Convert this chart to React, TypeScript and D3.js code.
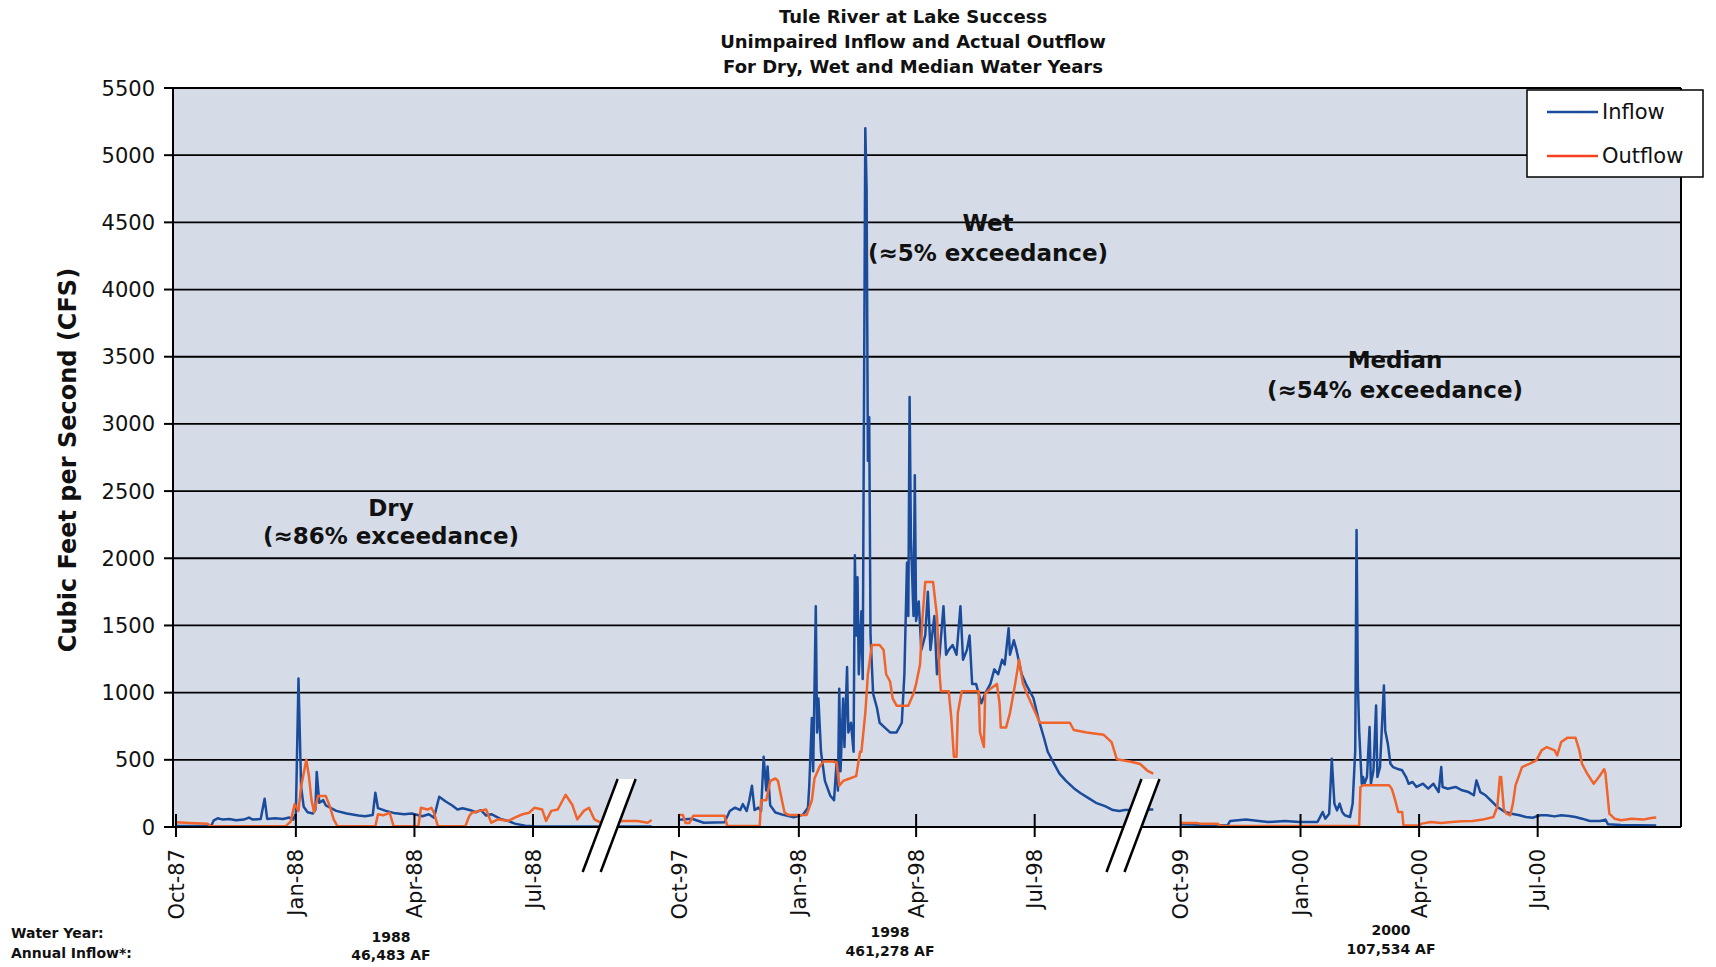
import React from "react";
import * as d3 from "d3";

// ---------- data (day offset from Oct 1 of water year, cfs) ----------
const TITLE_LINES = [
  "Tule River at Lake Success",
  "Unimpaired Inflow and Actual Outflow",
  "For Dry, Wet and Median Water Years",
];
const Y_TICKS = [0, 500, 1000, 1500, 2000, 2500, 3000, 3500, 4000, 4500, 5000, 5500];
const WATER_YEAR_STARTS = ["1987-10-01", "1997-10-01", "1999-10-01"];
const WATER_YEARS = ["1988", "1998", "2000"];
const ANNUAL_INFLOW = ["46,483 AF", "461,278 AF", "107,534 AF"];
const YEAR_TYPES = ["Dry", "Wet", "Median"];
const EXCEEDANCE = ["(≈86% exceedance)", "(≈5% exceedance)", "(≈54% exceedance)"];
const SERIES_NAMES = ["Inflow", "Outflow"];
const GAP_DAYS = 20;
const BREAK_DAYS: [number, number][] = [[0, 332], [1, 348]];

const dryInflow: [number, number][] = [
  [0, 8], [27, 8], [29, 50], [32, 65], [36, 55], [41, 60], [46, 50], [52, 55], [56, 70], [59, 55],
  [65, 60], [68, 210], [70, 60], [76, 65], [82, 60], [87, 70], [90, 55], [92, 100], [94, 1105], [96, 300],
  [98, 150], [101, 110], [105, 100], [107, 130], [108, 410], [110, 180], [113, 200], [115, 160], [119, 140],
  [123, 120], [131, 100], [140, 85], [145, 80], [151, 90], [153, 255], [155, 140], [161, 120], [167, 105],
  [175, 95], [181, 100], [189, 80], [194, 95], [198, 70], [202, 225], [207, 190], [212, 160], [216, 130],
  [220, 140], [226, 125], [230, 110], [234, 125], [238, 85], [242, 95], [249, 60], [255, 45], [260, 25],
  [268, 10], [275, 5], [365, 3],
];
const dryOutflow: [number, number][] = [
  [0, 35], [10, 30], [24, 25], [27, 5], [84, 5], [88, 40], [91, 170], [94, 120], [96, 300], [100, 500],
  [102, 380], [104, 200], [106, 110], [109, 230], [115, 230], [118, 155], [121, 57], [124, 5], [153, 5],
  [155, 95], [159, 87], [164, 106], [167, 5], [186, 5], [188, 143], [193, 130], [196, 143], [198, 106],
  [201, 5], [222, 5], [225, 80], [227, 106], [233, 120], [238, 130], [242, 32], [247, 57], [255, 45],
  [260, 70], [266, 95], [271, 106], [275, 143], [281, 130], [284, 45], [288, 120], [293, 130], [299, 240],
  [304, 168], [308, 57], [313, 120], [317, 143], [321, 57], [326, 32], [343, 45], [354, 45], [362, 32], [365, 52],
];
const wetInflow: [number, number][] = [
  [0, 54], [10, 61], [19, 32], [35, 36], [39, 119], [43, 144], [47, 126], [49, 170], [52, 119], [54, 199],
  [56, 307], [58, 126], [61, 144], [63, 119], [65, 523], [67, 271], [68, 451], [70, 162], [74, 108], [80, 90],
  [88, 72], [95, 90], [99, 144], [100, 307], [102, 812], [103, 415], [105, 1643], [106, 704], [107, 957],
  [109, 560], [112, 343], [116, 235], [119, 199], [121, 487], [122, 271], [123, 1029], [124, 415], [126, 957],
  [127, 596], [129, 1191], [130, 704], [132, 776], [134, 560], [135, 2022], [136, 1426], [137, 1859],
  [138, 1137], [140, 1606], [141, 1101], [143, 5200], [144, 4747], [145, 2726], [146, 3050], [147, 1426],
  [149, 993], [152, 884], [154, 776], [158, 740], [162, 704], [167, 704], [171, 776], [173, 1137], [175, 1967],
  [176, 1570], [177, 3200], [178, 2148], [180, 1570], [181, 2617], [182, 1534], [184, 1679], [186, 1318],
  [189, 1426], [191, 1751], [193, 1318], [196, 1570], [198, 1137], [200, 1282], [203, 1643], [205, 1282],
  [207, 1318], [210, 1354], [213, 1282], [216, 1643], [218, 1245], [221, 1318], [223, 1426], [225, 1065],
  [228, 1065], [232, 921], [235, 993], [239, 1065], [242, 1173], [245, 1137], [248, 1245], [250, 1209],
  [253, 1480], [254, 1282], [257, 1390], [259, 1318], [263, 1137], [267, 1050], [272, 960], [276, 800],
  [280, 668], [283, 560], [287, 487], [292, 397], [297, 343], [303, 289], [308, 253], [314, 217], [320, 180],
  [327, 155], [333, 126], [338, 119], [342, 126], [364, 130],
];
const wetOutflow: [number, number][] = [
  [0, 90], [3, 90], [5, 30], [8, 30], [11, 83], [35, 83], [37, 10], [62, 7], [63, 199], [67, 199], [70, 343],
  [74, 361], [76, 343], [79, 199], [81, 108], [84, 90], [98, 90], [102, 199], [104, 361], [108, 451],
  [111, 487], [118, 487], [121, 480], [123, 307], [126, 343], [131, 361], [136, 379], [139, 560], [140, 560],
  [143, 848], [145, 1137], [148, 1354], [154, 1354], [157, 1318], [159, 1137], [162, 1083], [164, 957],
  [167, 903], [176, 903], [180, 993], [182, 1065], [185, 1209], [187, 1570], [189, 1823], [195, 1823],
  [198, 1570], [200, 1137], [201, 1011], [207, 1011], [209, 812], [211, 523], [213, 523], [214, 848],
  [217, 1011], [230, 1011], [231, 704], [234, 596], [235, 993], [239, 1029], [244, 1065], [246, 921],
  [247, 740], [251, 740], [254, 848], [258, 1065], [261, 1245], [264, 1065], [267, 993], [272, 884],
  [277, 776], [300, 776], [303, 722], [313, 704], [326, 686], [332, 632], [336, 505], [346, 487], [354, 469],
  [360, 415], [364, 397],
];
const medianInflow: [number, number][] = [
  [0, 20], [36, 12], [38, 45], [50, 55], [67, 37], [80, 45], [91, 37], [105, 37], [107, 74], [109, 112],
  [111, 62], [114, 99], [116, 508], [118, 174], [120, 124], [122, 174], [124, 112], [126, 87], [130, 74],
  [132, 174], [134, 570], [135, 2210], [136, 1066], [137, 719], [139, 322], [140, 372], [141, 322], [143, 372],
  [145, 744], [146, 322], [148, 422], [150, 905], [151, 372], [153, 446], [156, 1054], [157, 719], [159, 620],
  [161, 471], [163, 446], [166, 434], [170, 422], [173, 372], [175, 322], [178, 335], [181, 298], [186, 322],
  [190, 285], [194, 322], [198, 260], [200, 446], [201, 298], [205, 285], [211, 298], [216, 273], [221, 260],
  [225, 236], [227, 347], [230, 260], [234, 236], [238, 198], [243, 149], [249, 112], [254, 99], [260, 87],
  [265, 74], [270, 69], [276, 87], [281, 87], [287, 79], [292, 87], [298, 82], [303, 74], [308, 62], [314, 45],
  [322, 45], [326, 55], [328, 20], [338, 15], [365, 12],
];
const medianOutflow: [number, number][] = [
  [0, 37], [1, 30], [12, 30], [15, 25], [28, 25], [30, 12], [33, 7], [137, 7], [138, 298], [140, 310],
  [160, 310], [162, 285], [164, 223], [167, 112], [170, 112], [171, 12], [183, 12], [185, 25], [192, 37],
  [200, 30], [208, 37], [216, 42], [224, 45], [232, 55], [240, 74], [243, 149], [245, 372], [246, 372],
  [248, 136], [250, 99], [253, 87], [255, 174], [257, 310], [262, 446], [268, 471], [273, 496], [277, 570],
  [281, 595], [287, 570], [289, 533], [292, 632], [297, 665], [303, 665], [306, 570], [308, 471], [312, 397],
  [317, 322], [321, 372], [325, 430], [326, 400], [329, 99], [333, 62], [338, 50], [346, 62], [355, 55],
  [361, 67], [365, 70],
];
const INFLOW = [dryInflow, wetInflow, medianInflow];
const OUTFLOW = [dryOutflow, wetOutflow, medianOutflow];

// ---------- layout ----------
const W = 1716, H = 967;
const PLOT = { left: 173, right: 1681, top: 88, bottom: 827 };
const FONT = "'DejaVu Sans', Verdana, sans-serif";
const COLORS = { inflow: "#1b4c9b", outflow: "#f0632b", plot: "#d5dce8" };

export default function App() {
  const parse = d3.timeParse("%Y-%m-%d");
  const starts = WATER_YEAR_STARTS.map((s) => parse(s) as Date);
  const lengths = starts.map((s) => d3.timeDay.count(s, d3.timeYear.offset(s, 1)));
  const offsets: number[] = [];
  lengths.reduce((acc, len, i) => {
    offsets[i] = acc;
    return acc + len + GAP_DAYS;
  }, 0);

  const x = d3.scaleLinear().domain([-2.3, 1155]).range([PLOT.left, PLOT.right]);
  const y = d3.scaleLinear().domain([0, 5500]).range([PLOT.bottom, PLOT.top]);
  const line = (seg: number) =>
    d3.line<[number, number]>()
      .x((d) => x(offsets[seg] + d[0]))
      .y((d) => y(d[1]));

  const ticks = starts.flatMap((s, i) =>
    [0, 3, 6, 9].map((m) => {
      const dt = d3.timeMonth.offset(s, m);
      return { idx: offsets[i] + d3.timeDay.count(s, dt), label: d3.timeFormat("%b-%y")(dt) };
    })
  );

  const annot = [
    { x: 391, y1: 516, y2: 544 },
    { x: 988, y1: 231, y2: 261 },
    { x: 1395, y1: 368, y2: 398 },
  ];
  const yearLabelX = [391, 890, 1391];
  const yearLabelY = [[942, 960], [937, 956], [935, 954]];

  const slope = 35 / 93;
  const axisY = y(0);

  return (
    <svg width={W} height={H} style={{ position: "absolute", left: 0, top: 0, background: "#fff" }}>
      <rect x={0} y={0} width={W} height={H} fill="#fff" />
      {/* title */}
      {TITLE_LINES.map((t, i) => (
        <text key={t} x={913} y={23 + i * 25} textAnchor="middle" fontFamily={FONT} fontWeight="bold" fontSize={18} fill="#111">
          {t}
        </text>
      ))}
      {/* plot area */}
      <rect x={PLOT.left} y={PLOT.top} width={PLOT.right - PLOT.left} height={PLOT.bottom - PLOT.top} fill={COLORS.plot} />
      {Y_TICKS.filter((v) => v > 0).map((v) => (
        <line key={v} x1={PLOT.left} x2={PLOT.right} y1={y(v)} y2={y(v)} stroke="#000" strokeWidth={1.8} />
      ))}
      {Y_TICKS.map((v) => (
        <g key={"yt" + v}>
          <line x1={PLOT.left - 9} x2={PLOT.left} y1={y(v)} y2={y(v)} stroke="#000" strokeWidth={2} />
          <text x={155} y={y(v)} dy="0.36em" textAnchor="end" fontFamily={FONT} fontSize={21} fill="#111">
            {v}
          </text>
        </g>
      ))}
      <line x1={PLOT.left} x2={PLOT.left} y1={PLOT.top} y2={PLOT.bottom} stroke="#000" strokeWidth={2} />
      <line x1={PLOT.right} x2={PLOT.right} y1={PLOT.top} y2={PLOT.bottom} stroke="#000" strokeWidth={2} />

      {/* data */}
      {INFLOW.map((d, i) => (
        <path key={"in" + i} d={line(i)(d) || ""} fill="none" stroke={COLORS.inflow} strokeWidth={2.5} strokeLinejoin="round" />
      ))}
      {OUTFLOW.map((d, i) => (
        <path key={"out" + i} d={line(i)(d) || ""} fill="none" stroke={COLORS.outflow} strokeWidth={2.5} strokeLinejoin="round" />
      ))}

      {/* x axis */}
      <line x1={PLOT.left} x2={PLOT.right} y1={axisY} y2={axisY} stroke="#000" strokeWidth={2.2} />
      {ticks.map((t) => (
        <g key={t.label}>
          <line x1={x(t.idx)} x2={x(t.idx)} y1={axisY - 13} y2={axisY + 10} stroke="#000" strokeWidth={2} />
          <text
            transform={`translate(${x(t.idx)},${axisY + 22}) rotate(-90)`}
            dy="0.36em"
            textAnchor="end"
            fontFamily={FONT}
            fontSize={21}
            fill="#111"
          >
            {t.label}
          </text>
        </g>
      ))}

      {/* axis breaks */}
      {BREAK_DAYS.map(([seg, day]) => {
        const cx = x(offsets[seg] + day);
        const x1b = cx - 9 - 45 * slope, x1t = cx - 9 + 48 * slope;
        const x2b = cx + 9 - 45 * slope, x2t = cx + 9 + 48 * slope;
        const yb = axisY + 45, yt = axisY - 48;
        return (
          <g key={"br" + seg}>
            <polygon points={`${x1b},${yb} ${x1t},${yt} ${x2t},${yt} ${x2b},${yb}`} fill="#fff" />
            <line x1={x1b} y1={yb} x2={x1t} y2={yt} stroke="#000" strokeWidth={2.5} />
            <line x1={x2b} y1={yb} x2={x2t} y2={yt} stroke="#000" strokeWidth={2.5} />
          </g>
        );
      })}

      {/* annotations */}
      {annot.map((a, i) => (
        <g key={"an" + i} fontFamily={FONT} fontWeight="bold" fontSize={23} fill="#111" textAnchor="middle">
          <text x={a.x} y={a.y1}>{YEAR_TYPES[i]}</text>
          <text x={a.x} y={a.y2}>{EXCEEDANCE[i]}</text>
        </g>
      ))}

      {/* legend */}
      <rect x={1527} y={90} width={176} height={87} fill="#fff" stroke="#000" strokeWidth={1.5} />
      {SERIES_NAMES.map((n, i) => (
        <g key={n}>
          <line x1={1547} x2={1598} y1={112 + i * 44} y2={112 + i * 44} stroke={i === 0 ? COLORS.inflow : "#f5411f"} strokeWidth={2.5} />
          <text x={1602} y={112 + i * 44} dy="0.35em" fontFamily={FONT} fontSize={21} fill="#111">
            {n}
          </text>
        </g>
      ))}

      {/* y axis title */}
      <text transform={`translate(68,460) rotate(-90)`} dy="0.35em" textAnchor="middle" fontFamily={FONT} fontWeight="bold" fontSize={24} fill="#111">
        Cubic Feet per Second (CFS)
      </text>

      {/* bottom labels */}
      <g fontFamily={FONT} fontWeight="bold" fontSize={14} fill="#111">
        <text x={11} y={938}>Water Year:</text>
        <text x={11} y={958}>Annual Inflow*:</text>
        {WATER_YEARS.map((wy, i) => (
          <g key={wy} textAnchor="middle">
            <text x={yearLabelX[i]} y={yearLabelY[i][0]}>{wy}</text>
            <text x={yearLabelX[i]} y={yearLabelY[i][1]}>{ANNUAL_INFLOW[i]}</text>
          </g>
        ))}
      </g>
    </svg>
  );
}
